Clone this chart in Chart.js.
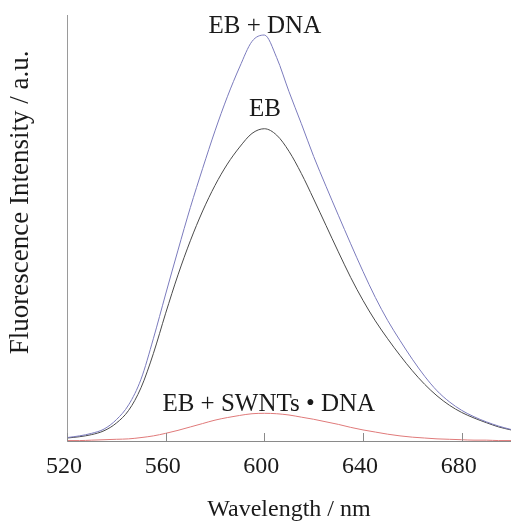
<!DOCTYPE html>
<html>
<head>
<meta charset="utf-8">
<script src="https://cdn.jsdelivr.net/npm/chart.js@4.4.1/dist/chart.umd.min.js"></script>
<style>
html,body{margin:0;padding:0;background:#fff;}
#wrap{width:511px;height:521px;position:relative;}
</style>
</head>
<body>
<div id="wrap"><canvas id="c" width="511" height="521"></canvas></div>
<script>
// ---- data ----
const wavelengths = [520,525,530,535,540,545,550,555,560,565,570,575,580,585,590,595,600,605,610,615,620,625,630,635,640,645,650,655,660,665,670,675,680,685,690,695,700];
const ebDna =       [8,12,18,28,50,85,145,240,345,448,548,640,728,808,878,938,953,900,820,745,668,598,530,463,398,337,283,236,192,152,118,92,72,57,45,35,27];
const eb =          [7,10,15,24,42,72,125,205,300,390,470,540,600,650,690,722,733,718,680,628,568,506,444,384,330,282,240,201,165,133,106,84,67,54,43,33,26];
const ebSwnts =     [1,1,2,3,4,5,8,12,18,25,33,41,49,55,60,64,65,64,61,56,51,45,39,32,26,21,16,12,9,7,5,4,3,2,2,1,1];
const seriesNames = ['EB + DNA','EB','EB + SWNTs \u2022 DNA'];
const xTicks = [520,560,600,640,680];
const xTitle = 'Wavelength / nm';
const yTitle = 'Fluorescence Intensity / a.u.';
// label anchor points (data coords) for the curve annotations
const labelAnchors = [[600.2,958],[600.3,764],[601.8,71]];

const FONT = 'Liberation Serif, Times New Roman, serif';
const TEXT = '#1a1a1a';
const colors = ['#7b7bbd','#4a4a4a','#e07a7a'];
const values = [ebDna, eb, ebSwnts];

const toPts = arr => wavelengths.map((w,i)=>({x:w,y:arr[i]}));

const decor = {
  id:'decor',
  afterDatasetsDraw(chart){
    const {ctx, chartArea:a, scales:{x,y}} = chart;
    ctx.save();
    // inward tick marks
    ctx.strokeStyle = '#8a8a8a';
    ctx.lineWidth = 1;
    xTicks.forEach(t=>{
      const px = Math.round(x.getPixelForValue(t))+0.5;
      ctx.beginPath(); ctx.moveTo(px,a.bottom); ctx.lineTo(px,a.bottom-8); ctx.stroke();
    });
    // curve labels
    ctx.fillStyle = TEXT;
    ctx.font = '25px ' + FONT;
    ctx.textAlign = 'center';
    ctx.textBaseline = 'alphabetic';
    labelAnchors.forEach((p,i)=>{
      ctx.fillText(seriesNames[i], x.getPixelForValue(p[0]), y.getPixelForValue(p[1]));
    });
    // y title
    ctx.font = '27px ' + FONT;
    ctx.translate(21, a.top + a.height*0.44);
    ctx.rotate(-Math.PI/2);
    ctx.textBaseline = 'middle';
    ctx.fillText(yTitle, 0, 0);
    ctx.restore();
  }
};

new Chart(document.getElementById('c'), {
  type:'line',
  data:{
    datasets: values.map((v,i)=>({
      label: seriesNames[i],
      data: toPts(v),
      borderColor: colors[i],
      borderWidth: 1,
      pointRadius: 0,
      fill:false,
      cubicInterpolationMode:'monotone'
    }))
  },
  options:{
    responsive:false,
    animation:false,
    devicePixelRatio:1,
    layout:{padding:{left:67,top:15,right:0,bottom:0}},
    plugins:{legend:{display:false}, tooltip:{enabled:false}},
    scales:{
      x:{
        type:'linear', min:520, max:700,
        afterBuildTicks(s){ s.ticks = xTicks.map(v=>({value:v})); },
        afterFit(s){ s.height = 80; },
        grid:{display:false},
        border:{display:true, color:'#8a8a8a', width:1},
        ticks:{padding:3, labelOffset:-3, color:TEXT, font:{family:FONT, size:24}, maxRotation:0},
        title:{display:true, text:xTitle, color:TEXT, font:{family:FONT, size:24}, padding:{top:14,bottom:-3}}
      },
      y:{
        min:0, max:1000,
        afterFit(s){ s.width = 0; },
        grid:{display:false},
        border:{display:true, color:'#9a9a9a', width:1},
        ticks:{display:false}
      }
    }
  },
  plugins:[decor]
});
</script>
</body>
</html>
